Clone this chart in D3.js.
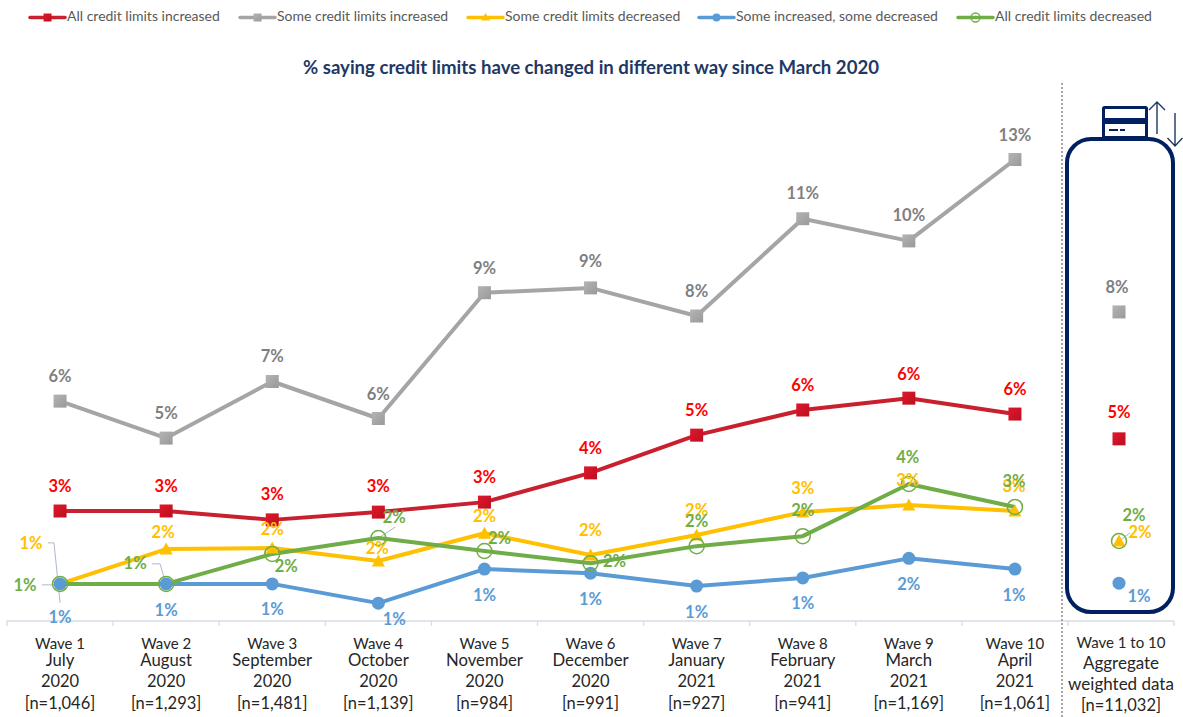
<!DOCTYPE html>
<html><head><meta charset="utf-8">
<script src="https://cdn.jsdelivr.net/npm/d3@7/dist/d3.min.js"></script>
<style>html,body{margin:0;padding:0;background:#fff}svg{display:block}text{font-family:Lato,"Open Sans",sans-serif}</style>
</head><body><svg id="c" width="1183" height="717"></svg>
<script>
const waves=["Wave 1","Wave 2","Wave 3","Wave 4","Wave 5","Wave 6","Wave 7","Wave 8","Wave 9","Wave 10"];
const months=["July","August","September","October","November","December","January","February","March","April"];
const years=["2020","2020","2020","2020","2020","2020","2021","2021","2021","2021"];
const sizes=["[n=1,046]","[n=1,293]","[n=1,481]","[n=1,139]","[n=984]","[n=991]","[n=927]","[n=941]","[n=1,169]","[n=1,061]"];
const aggregateLines=["Wave 1 to 10","Aggregate","weighted data","[n=11,032]"];
const title="% saying credit limits have changed in different way since March 2020";

const allIncreased=[3.0,3.0,2.76,2.97,3.24,4.03,5.05,5.73,6.05,5.62];
const someIncreased=[5.97,4.97,6.5,5.5,8.9,9.03,8.27,10.9,10.3,12.5];
const someDecreased=[1.03,1.97,2.0,1.65,2.4,1.81,2.35,2.97,3.16,3.0];
const mixed=[1.03,1.03,1.03,0.51,1.43,1.32,0.97,1.19,1.72,1.43];
const allDecreased=[1.03,1.03,1.84,2.27,1.92,1.59,2.05,2.32,3.73,3.11];
const aggregate={all:4.95,some:8.38,dec:2.19,mix:1.05,alld:2.19};

// layout of data labels (offset from the mark, px)
const offs={
 some:{dx:[0,0,0,0,0,0,0,0,0,0],dy:[-25,-25,-25,-24,-24,-26,-25,-25,-25,-24],agg:[-2,-24]},
 all:{dx:[0,0,0,0,0,0,0,0,0,0],dy:[-25,-25,-25,-26,-25,-24,-25,-24,-24,-25],agg:[0,-26]},
 dec:{dx:[-29,-3,0,-1,0,0,0,0,-1,-1],dy:[-40,-17,-19,-12,-17,-25,-25,-24,-25,-25],agg:[21,-8]},
 mix:{dx:[0,0,0,16,0,0,0,0,0,-1],dy:[34,27,26,16,26,26,26,26,26,26],agg:[20,13]},
 alld:{dx:[-35,-31,14,16,15,24,0,0,-1,-1],dy:[2,-20,13,-21,-12,-2,-25,-26,-26,-25],agg:[15,-25]}
};
const series=[
 {key:"all",name:"All credit limits increased",values:allIncreased,line:"#C8202F",label:"#FF0000",marker:"square",fill:"url(#gRed)",lx:30},
 {key:"some",name:"Some credit limits increased",values:someIncreased,line:"#A5A5A5",label:"#7F7F7F",marker:"square",fill:"url(#gGrey)",lx:240},
 {key:"dec",name:"Some credit limits decreased",values:someDecreased,line:"#FFC000",label:"#FFC000",marker:"triangle",fill:"#FFC000",lx:468},
 {key:"mix",name:"Some increased, some decreased",values:mixed,line:"#5B9BD5",label:"#5B9BD5",marker:"circle",fill:"#5B9BD5",lx:699},
 {key:"alld",name:"All credit limits decreased",values:allDecreased,line:"#70AD47",label:"#70AD47",marker:"ring",fill:"none",lx:958}
];
const drawOrder=["all","some","mix","dec","alld"].map(k=>series.find(s=>s.key===k));
const markerOrder=["all","some","dec","mix","alld"].map(k=>series.find(s=>s.key===k));

const svg=d3.select("#c");
const defs=svg.append("defs");
[["gRed","#E2162C","#B9101F"],["gGrey","#B4B4B4","#999999"]].forEach(([id,a,b])=>{
 const g=defs.append("linearGradient").attr("id",id).attr("x1",0).attr("y1",0).attr("x2",1).attr("y2",1);
 g.append("stop").attr("offset",0).attr("stop-color",a);
 g.append("stop").attr("offset",1).attr("stop-color",b);
});
const x=d3.scaleBand().domain(waves).range([7,1068]);
const xA=d3.scaleBand().domain(["agg"]).range([1065,1173]);
const y=d3.scaleLinear().domain([0,13]).range([622,141]);
const cx=i=>x(waves[i])+x.bandwidth()/2;

function marker(g,type,px,py,fill,stroke){
 if(type==="square")g.append("rect").attr("x",px-6.5).attr("y",py-6.5).attr("width",13).attr("height",13).attr("fill",fill);
 if(type==="triangle")g.append("path").attr("d",`M${px},${py-6.5}L${px+6.5},${py+5.5}L${px-6.5},${py+5.5}Z`).attr("fill",fill);
 if(type==="circle")g.append("circle").attr("cx",px).attr("cy",py).attr("r",6.5).attr("fill",fill);
 if(type==="ring")g.append("circle").attr("cx",px).attr("cy",py).attr("r",7.5).attr("fill","none").attr("stroke",stroke).attr("stroke-width",1.5);
}

// legend
const leg=svg.append("g");
series.forEach(s=>{
 leg.append("line").attr("x1",s.lx).attr("x2",s.lx+35).attr("y1",17.5).attr("y2",17.5).attr("stroke",s.line).attr("stroke-width",3.5).attr("stroke-linecap","round");
 const m=leg.append("g");
 if(s.marker==="ring")m.append("circle").attr("cx",s.lx+17.5).attr("cy",17.5).attr("r",4.5).attr("fill","none").attr("stroke",s.line).attr("stroke-width",1.3);
 else if(s.marker==="circle")m.append("circle").attr("cx",s.lx+17.5).attr("cy",17.5).attr("r",4).attr("fill",s.fill);
 else if(s.marker==="triangle")m.append("path").attr("d",`M${s.lx+17.5},${13}l4.5,7.5h-9Z`).attr("fill",s.fill);
 else m.append("rect").attr("x",s.lx+13.5).attr("y",13.5).attr("width",8).attr("height",8).attr("fill",s.fill);
 leg.append("text").attr("x",s.lx+37).attr("y",20.5).attr("font-size",14).attr("fill","#595959").text(s.name);
});

// title
svg.append("text").attr("x",591).attr("y",74).attr("text-anchor","middle").attr("font-size",18.6).attr("font-weight",700).attr("fill","#1F3864").text(title);

// axis
const axisC="#D6DCE5";
const ax=svg.append("g").attr("stroke",axisC).attr("stroke-width",1.3).attr("fill","none");
ax.append("line").attr("x1",7).attr("x2",1068).attr("y1",621).attr("y2",621);
ax.append("line").attr("x1",1068).attr("x2",1174).attr("y1",621).attr("y2",621);
waves.forEach((w,i)=>ax.append("line").attr("x1",x(w)).attr("x2",x(w)).attr("y1",621).attr("y2",626));
[1068,1174].forEach(v=>ax.append("line").attr("x1",v).attr("x2",v).attr("y1",621).attr("y2",626));

// tick labels
const tl=svg.append("g").attr("text-anchor","middle").attr("fill","#262626");
waves.forEach((w,i)=>{
 [[w,649,15],[months[i],666,16.7],[years[i],687,16.5],[sizes[i],709,16.5]].forEach(([t,yy,fs])=>
  tl.append("text").attr("x",cx(i)).attr("y",yy).attr("font-size",fs).text(t));
});
const aggX=xA("agg")+xA.bandwidth()/2+2;
[[aggregateLines[0],648,15],[aggregateLines[1],669,17],[aggregateLines[2],690,17],[aggregateLines[3],711,16.5]].forEach(([t,yy,fs])=>
 tl.append("text").attr("x",aggX).attr("y",yy).attr("font-size",fs).text(t));

// divider + frame + icon
svg.append("line").attr("x1",1062).attr("x2",1062).attr("y1",83).attr("y2",717).attr("stroke","#A6A6A6").attr("stroke-width",2).attr("stroke-dasharray","2 2");
svg.append("rect").attr("x",1067).attr("y",139).attr("width",106).attr("height",473).attr("rx",24).attr("fill","none").attr("stroke","#002060").attr("stroke-width",4);
const ic=svg.append("g").attr("stroke","#002060").attr("fill","none");
ic.append("rect").attr("x",1103.5).attr("y",107.5).attr("width",43).attr("height",30).attr("rx",1).attr("stroke-width",3);
ic.append("line").attr("x1",1103).attr("x2",1147).attr("y1",121).attr("y2",121).attr("stroke-width",6);
ic.append("line").attr("x1",1109).attr("x2",1118).attr("y1",130).attr("y2",130).attr("stroke-width",2);
ic.append("line").attr("x1",1120).attr("x2",1125).attr("y1",130).attr("y2",130).attr("stroke-width",2);
ic.append("path").attr("d","M1157,134V102M1149,110L1157,102L1165,110M1175,113V146M1167.5,138L1175,146L1182.5,138").attr("stroke-width",1.4).attr("stroke","#1F3864");

// leader lines
const lead=svg.append("g").attr("stroke","#ADB9CA").attr("stroke-width",1).attr("fill","none");
const Y0=y(someDecreased[0]);
lead.append("path").attr("d",`M48,${Y0-41}H54L${cx(0)},${Y0+19}`);
lead.append("path").attr("d",`M42,${Y0+1}H${cx(0)}`);
lead.append("path").attr("d",`M152,${y(allDecreased[1])-20}H160L${cx(1)},${y(allDecreased[1])}`);
lead.append("path").attr("d",`M${cx(3)},${y(allDecreased[3])}L${cx(3)+17},${y(allDecreased[3])-11}`);
lead.append("path").attr("d",`M${aggX-2},${y(aggregate.dec)}L${aggX+9},${y(aggregate.dec)-8}`);

// lines and markers
const lineGen=d3.line().x((d,i)=>cx(i)).y(d=>y(d));
drawOrder.forEach(s=>{
 svg.append("path").attr("d",lineGen(s.values)).attr("fill","none").attr("stroke",s.line).attr("stroke-width",4).attr("stroke-linejoin","round");
});
markerOrder.forEach(s=>{
 const g=svg.append("g");
 s.values.forEach((v,i)=>marker(g,s.marker,cx(i),y(v),s.fill,s.line));
 marker(g,s.marker,aggX-2,y(aggregate[s.key]),s.fill,s.line);
});

// data labels
const fmt=v=>d3.format(".0f")(v)+"%";
const lab=svg.append("g").attr("text-anchor","middle").attr("font-size",16.5).attr("font-weight",700);
drawOrder.forEach(s=>{
 const o=offs[s.key];
 s.values.forEach((v,i)=>lab.append("text").attr("x",cx(i)+o.dx[i]).attr("y",y(v)+o.dy[i]+5.5).attr("fill",s.label).text(fmt(v)));
 lab.append("text").attr("x",aggX-2+o.agg[0]).attr("y",y(aggregate[s.key])+o.agg[1]+5.5).attr("fill",s.label).text(fmt(aggregate[s.key]));
});
</script></body></html>
